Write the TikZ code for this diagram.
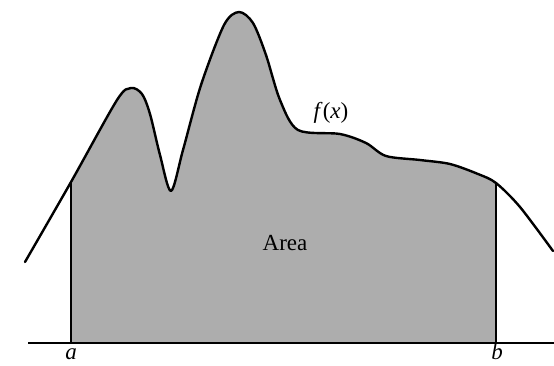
\documentclass[tikz,border=0pt]{standalone}
\usepackage{fontspec}
\setmainfont{Liberation Serif}
\usetikzlibrary{intersections}
\begin{document}
\begin{tikzpicture}[x=1pt,y=-1pt,
  curveline/.style={line width=2.4pt,line join=round,line cap=round},
  edgeline/.style={line width=1.8pt},
  areafill/.style={fill=black!32},
  lbl/.style={font=\fontsize{23}{27}\selectfont,inner sep=0pt}]
\useasboundingbox (0,0) rectangle (554,365);
\def\curvepts{(25,262) (71,182) (117,100) (131,88) (142,94) (150,114) (160,155) (171,191) (183,150) (201,85) (224,25) (239,12) (253,23) (266,55) (280,100) (298,130) (340,134) (366,143) (386,156) (420,160) (450,164) (478,174) (496,183) (520,207) (553,251)}
\coordinate (base0) at (28,343);
\coordinate (base1) at (554,343);
\coordinate (abot) at (71,343);
\coordinate (bbot) at (496,343);
% shaded area
\begin{scope}
  \clip (abot) rectangle (496,0);
  \fill[areafill] plot[smooth,tension=0.5] coordinates {\curvepts} -- (553,343) -- (25,343) -- cycle;
\end{scope}
% curve
\draw[curveline,name path=fcurve] plot[smooth,tension=0.5] coordinates {\curvepts};
\path[name path=aline] (abot) -- (71,0);
\path[name path=bline] (bbot) -- (496,0);
\path[name intersections={of=fcurve and aline,by=atop}];
\path[name intersections={of=fcurve and bline,by=btop}];
\draw[edgeline] (abot) -- (atop);
\draw[edgeline] (bbot) -- (btop);
\draw[edgeline] (base0) -- (base1);
% labels
\node[lbl,anchor=base] (alab) at (71,359) {\textit{a}};
\node[lbl,anchor=base] (blab) at (497,359) {\textit{b}};
\node[lbl] (area) at (285,243) {Area};
\node[lbl] (flab) at (331,113) {\textit{f}(\textit{x})};
\end{tikzpicture}
\end{document}
